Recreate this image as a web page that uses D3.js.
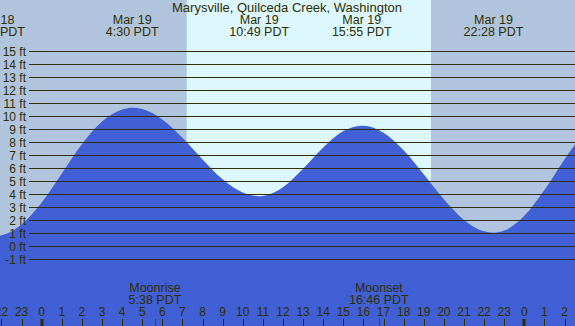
<!DOCTYPE html>
<html><head><meta charset="utf-8">
<script src="https://cdn.jsdelivr.net/npm/d3@7"></script>
<style>html,body{margin:0;padding:0;overflow:hidden;background:#b0c4de}svg{display:block}</style>
</head><body><svg id="c" width="575" height="326"></svg>
<script>
const title = "Marysville, Quilceda Creek, Washington";
// hours relative to midnight Mar 19
const tideHours = [-3, -2.32, -2, -1, 0, 1, 2, 3, 4, 4.5, 5, 6, 7, 8, 9, 10, 10.82, 11, 12, 13, 14, 15, 15.92, 16, 17, 18, 19, 20, 21, 22, 22.47, 23, 24, 25, 26, 27];
const tideFeet  = [1.05, 0.8, 0.85, 1.68, 3.36, 5.6, 7.85, 9.6, 10.53, 10.66, 10.56, 9.76, 8.35, 6.68, 5.15, 4.13, 3.85, 3.87, 4.54, 5.96, 7.60, 8.86, 9.28, 9.28, 8.74, 7.39, 5.54, 3.61, 2.03, 1.15, 1.05, 1.21, 2.35, 4.33, 6.68, 8.85];
const extremeHours = [-2.32, 4.5, 10.817, 15.917, 22.467];
const extremeDates = ["Mar 18", "Mar 19", "Mar 19", "Mar 19", "Mar 19"];
const extremeTimes = ["21:41 PDT", "4:30 PDT", "10:49 PDT", "15:55 PDT", "22:28 PDT"];
const footLevels = [-1,0,1,2,3,4,5,6,7,8,9,10,11,12,13,14,15];
const hourTicks = [-2,-1,0,1,2,3,4,5,6,7,8,9,10,11,12,13,14,15,16,17,18,19,20,21,22,23,24,25,26];
const sunrise = 7.21, sunset = 19.36;
const moonEvents = [{name:"Moonrise", time:"5:38 PDT", h:5.633},{name:"Moonset", time:"16:46 PDT", h:16.767}];

const W=575,H=326;
const svg=d3.select("#c");
const x=d3.scaleLinear().domain([0,24]).range([41.7,524.3]);
const y=d3.scaleLinear().domain([-1,15]).range([259.3,51.3]);
const ink="#2e2e00";
const font="Liberation Sans, Arial, sans-serif";

svg.append("rect").attr("x",0).attr("y",0).attr("width",W).attr("height",H).attr("fill","#b0c4de");
svg.append("rect").attr("x",x(sunrise)).attr("y",0).attr("width",x(sunset)-x(sunrise)).attr("height",H).attr("fill","#ddf7ff");

const pts=tideHours.map((h,i)=>[h,tideFeet[i]]);
svg.append("path").datum(pts)
  .attr("d",d3.area().x(d=>x(d[0])).y0(H).y1(d=>y(d[1])).curve(d3.curveMonotoneX))
  .attr("fill","#4160d6");

svg.append("g").selectAll("line").data(footLevels).join("line")
  .attr("x1",29).attr("x2",W).attr("y1",d=>Math.round(y(d))+0.5).attr("y2",d=>Math.round(y(d))+0.5)
  .attr("stroke",ink).attr("stroke-width",1);
svg.append("g").selectAll("text").data(footLevels).join("text")
  .attr("x",26).attr("y",d=>y(d)+4.5).attr("text-anchor","end")
  .attr("font-family",font).attr("font-size",12).attr("fill",ink).text(d=>d+" ft");

svg.append("text").attr("x",287).attr("y",12).attr("text-anchor","middle")
  .attr("font-family",font).attr("font-size",13).attr("fill",ink).text(title);

const ex=svg.append("g").selectAll("g").data(extremeHours).join("g");
ex.append("text").attr("x",d=>x(d)).attr("y",24).attr("text-anchor","middle")
  .attr("font-family",font).attr("font-size",12.5).attr("fill",ink).text((d,i)=>extremeDates[i]);
ex.append("text").attr("x",d=>x(d)).attr("y",36).attr("text-anchor","middle")
  .attr("font-family",font).attr("font-size",12.5).attr("fill",ink).text((d,i)=>extremeTimes[i]);

const mg=svg.append("g").selectAll("g").data(moonEvents).join("g");
mg.append("text").attr("x",d=>x(d.h)).attr("y",292).attr("text-anchor","middle")
  .attr("font-family",font).attr("font-size",12.5).attr("fill",ink).text(d=>d.name);
mg.append("text").attr("x",d=>x(d.h)).attr("y",304).attr("text-anchor","middle")
  .attr("font-family",font).attr("font-size",12.5).attr("fill",ink).text(d=>d.time);
mg.append("line").attr("x1",d=>Math.round(x(d.h))+0.5).attr("x2",d=>Math.round(x(d.h))+0.5)
  .attr("y1",319).attr("y2",H).attr("stroke","#e00000").attr("stroke-width",1);

const tg=svg.append("g").selectAll("g").data(hourTicks).join("g");
tg.append("line").attr("x1",d=>Math.round(x(d))+(d%24===0?0:0.5)).attr("x2",d=>Math.round(x(d))+(d%24===0?0:0.5))
  .attr("y1",319).attr("y2",H).attr("stroke",ink).attr("stroke-width",d=>d%24===0?3:1);
tg.append("text").attr("x",d=>x(d)).attr("y",316).attr("text-anchor","middle")
  .attr("font-family",font).attr("font-size",12).attr("fill",ink).text(d=>((d%24)+24)%24);
</script></body></html>
